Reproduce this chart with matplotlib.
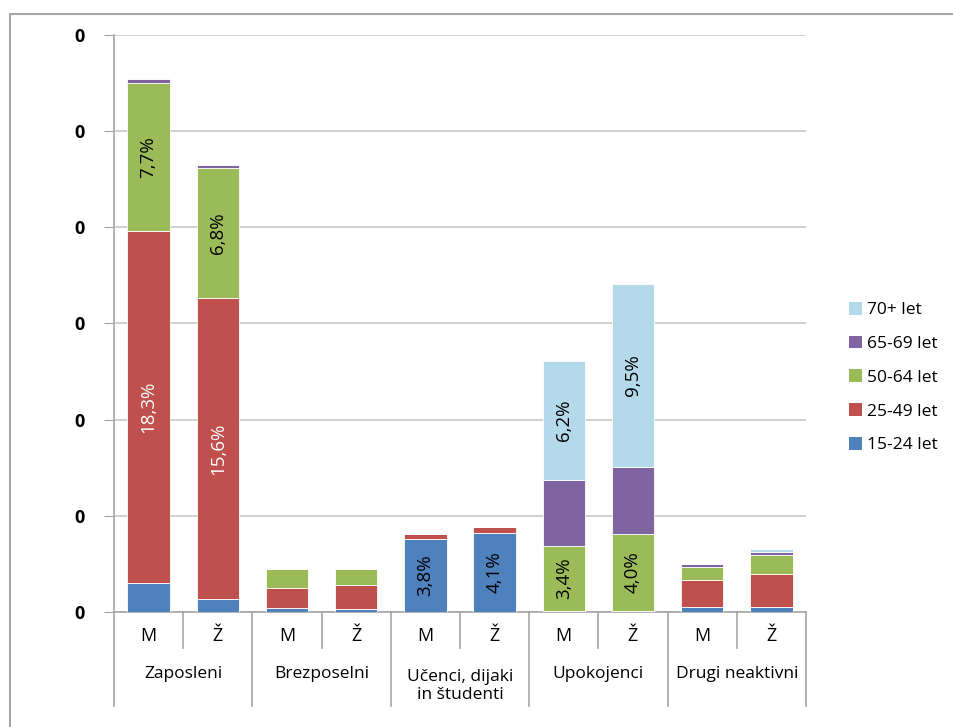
import matplotlib.pyplot as plt
import numpy as np
from matplotlib.patches import Patch, Rectangle
from matplotlib.lines import Line2D

plt.rcParams['font.family'] = ['Open Sans', 'DejaVu Sans']

GROUPS = ['Zaposleni', 'Brezposelni', 'Učenci, dijaki\nin študenti', 'Upokojenci', 'Drugi neaktivni']
SEXES = ['M', 'Ž']

# shares in %, order of bars: group by group, M then Ž
AGE_15_24 = [1.5, 0.7, 0.2, 0.15, 3.8, 4.1, 0.0, 0.0, 0.25, 0.25]
AGE_25_49 = [18.3, 15.6, 1.05, 1.25, 0.25, 0.3, 0.05, 0.05, 1.4, 1.7]
AGE_50_64 = [7.7, 6.8, 1.0, 0.85, 0.0, 0.0, 3.4, 4.0, 0.7, 1.0]
AGE_65_69 = [0.2, 0.15, 0.0, 0.0, 0.0, 0.0, 3.4, 3.5, 0.15, 0.15]
AGE_70 = [0.05, 0.05, 0.0, 0.0, 0.0, 0.0, 6.2, 9.5, 0.0, 0.15]

# (name, values, colour, show labels)
SERIES = [('15-24 let', AGE_15_24, '#4f81bd', True),
          ('25-49 let', AGE_25_49, '#c0504d', True),
          ('50-64 let', AGE_50_64, '#9bbb59', True),
          ('65-69 let', AGE_65_69, '#8064a2', False),
          ('70+ let', AGE_70, '#b3d9ea', True)]

fig = plt.figure(figsize=(9.54, 7.27), dpi=100)
ax = fig.add_axes([114 / 954, 1 - 612 / 727, 692 / 954, 577 / 727])

# outer chart frame
fig.patches.append(Rectangle((10 / 954, -0.1), 1.2, 1.1 - 14 / 727, transform=fig.transFigure,
                             fill=False, edgecolor='#a6a6a6', lw=1.5, zorder=0))

x = np.arange(len(AGE_15_24))
bottom = np.zeros(len(x))
for name, vals, col, show in SERIES:
    vals = np.array(vals)
    ax.bar(x, vals, 0.61, bottom=bottom, color=col, edgecolor='white', linewidth=0.6, zorder=3)
    for xi, v, b in zip(x, vals, bottom):
        if show and v >= 3:
            txt = '{:.1f}%'.format(v).replace('.', ',')
            c = 'white' if name == '25-49 let' else 'black'
            ax.text(xi, b + v / 2, txt, rotation=90, ha='center', va='center',
                    fontsize=13.5, color=c, zorder=4)
    bottom += vals

ax.set_xlim(-0.5, len(x) - 0.5)
ax.set_ylim(0, 30)
ax.set_yticks(np.arange(0, 31, 5))
ax.set_yticklabels(['0'] * 7, fontsize=13, fontweight='bold')
ax.tick_params(axis='y', length=7, color='#a6a6a6', pad=14)
ax.tick_params(axis='x', length=0, labelbottom=False)
ax.grid(True, axis='y', color='#c8c8c8', lw=1.2, zorder=0)
for s in ['top', 'right']:
    ax.spines[s].set_visible(False)
ax.spines['left'].set_color('#a6a6a6')
ax.spines['bottom'].set_color('#a6a6a6')
ax.spines['left'].set_linewidth(1.2)
ax.spines['bottom'].set_linewidth(1.2)

# two-level category axis
trans = ax.get_xaxis_transform()
for i in range(len(x)):
    ax.text(x[i], -0.042, SEXES[i % 2], transform=trans, ha='center', va='center', fontsize=13)
for g, name in enumerate(GROUPS):
    yy = -0.108 if '\n' not in name else -0.128
    ax.text(2 * g + 0.5, yy, name, transform=trans, ha='center', va='center',
            fontsize=12.5, linespacing=1.2)
for b in np.arange(-0.5, len(x), 1.0):
    k = int(b + 0.5)
    y_end = -0.163 if k % 2 == 0 else -0.063
    ax.add_line(Line2D([b, b], [0, y_end], transform=trans, color='#a6a6a6', lw=1.2, clip_on=False))

handles = [Patch(facecolor=c, edgecolor='none', label=n) for n, v, c, s in SERIES][::-1]
fig.legend(handles=handles, loc='upper left', bbox_to_anchor=(842 / 954, 1 - 295 / 727),
           frameon=False, fontsize=12.5, handlelength=0.75, handleheight=0.75,
           handletextpad=0.3, labelspacing=1.0, borderaxespad=0)

plt.savefig('out.png', dpi=100)
